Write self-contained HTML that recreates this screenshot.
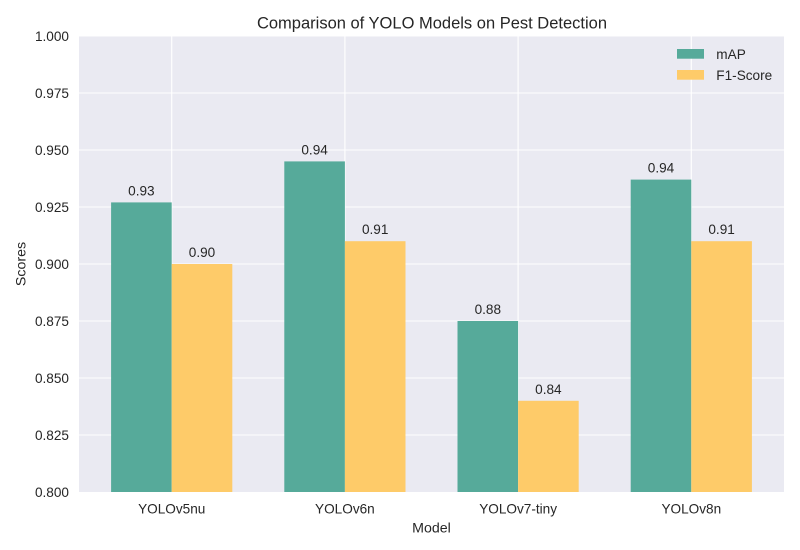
<!DOCTYPE html>
<html><head><meta charset="utf-8"><style>
html,body{margin:0;padding:0;background:#fff;}
svg{display:block;}
text{font-family:"Liberation Sans",Arial,sans-serif;fill:#262626;}
</style></head><body>
<svg width="800" height="550" viewBox="0 0 800 550" xmlns="http://www.w3.org/2000/svg">
<rect x="0" y="0" width="800" height="550" fill="#ffffff"/>
<rect x="79" y="36" width="705" height="456" fill="#eaeaf2"/>
<g stroke="#ffffff" stroke-width="1.1">
<line x1="79" x2="784" y1="36" y2="36"/>
<line x1="79" x2="784" y1="93" y2="93"/>
<line x1="79" x2="784" y1="150" y2="150"/>
<line x1="79" x2="784" y1="207" y2="207"/>
<line x1="79" x2="784" y1="264" y2="264"/>
<line x1="79" x2="784" y1="321" y2="321"/>
<line x1="79" x2="784" y1="378" y2="378"/>
<line x1="79" x2="784" y1="435" y2="435"/>
<line x1="171.7" x2="171.7" y1="36" y2="492"/>
<line x1="344.9" x2="344.9" y1="36" y2="492"/>
<line x1="518.1" x2="518.1" y1="36" y2="492"/>
<line x1="691.3" x2="691.3" y1="36" y2="492"/>
</g>
<g fill="#56aa9a">
<rect x="111.1" y="202.4" width="60.6" height="289.6"/>
<rect x="284.3" y="161.4" width="60.6" height="330.6"/>
<rect x="457.5" y="321" width="60.6" height="171"/>
<rect x="630.7" y="179.6" width="60.6" height="312.4"/>
</g>
<g fill="#fecb69">
<rect x="171.7" y="264" width="60.6" height="228"/>
<rect x="344.9" y="241.2" width="60.6" height="250.8"/>
<rect x="518.1" y="400.8" width="60.6" height="91.2"/>
<rect x="691.3" y="241.2" width="60.6" height="250.8"/>
</g>
<g font-size="13.6" text-anchor="middle">
<text x="141.4" y="195.4">0.93</text>
<text x="314.6" y="154.4">0.94</text>
<text x="487.8" y="314">0.88</text>
<text x="661" y="172.6">0.94</text>
<text x="202" y="257">0.90</text>
<text x="375.2" y="234.2">0.91</text>
<text x="548.4" y="393.8">0.84</text>
<text x="721.6" y="234.2">0.91</text>
</g>
<g font-size="13.6" text-anchor="end">
<text x="69" y="40.8">1.000</text>
<text x="69" y="97.8">0.975</text>
<text x="69" y="154.8">0.950</text>
<text x="69" y="211.8">0.925</text>
<text x="69" y="268.8">0.900</text>
<text x="69" y="325.8">0.875</text>
<text x="69" y="382.8">0.850</text>
<text x="69" y="439.8">0.825</text>
<text x="69" y="496.8">0.800</text>
</g>
<g font-size="13.6" text-anchor="middle">
<text x="171.7" y="513.3">YOLOv5nu</text>
<text x="344.9" y="513.3">YOLOv6n</text>
<text x="518.1" y="513.3">YOLOv7-tiny</text>
<text x="691.3" y="513.3">YOLOv8n</text>
</g>
<text x="431.5" y="532.5" font-size="14.2" text-anchor="middle">Model</text>
<text x="0" y="0" font-size="14.2" text-anchor="middle" transform="translate(25.5,264) rotate(-90)">Scores</text>
<text x="432" y="28.3" font-size="16.5" text-anchor="middle">Comparison of YOLO Models on Pest Detection</text>
<rect x="677" y="49" width="27" height="9.7" fill="#56aa9a"/>
<rect x="677" y="70" width="27" height="9.7" fill="#fecb69"/>
<text x="716.3" y="58.8" font-size="13.6">mAP</text>
<text x="716.3" y="79.8" font-size="13.6">F1-Score</text>
</svg>
</body></html>
